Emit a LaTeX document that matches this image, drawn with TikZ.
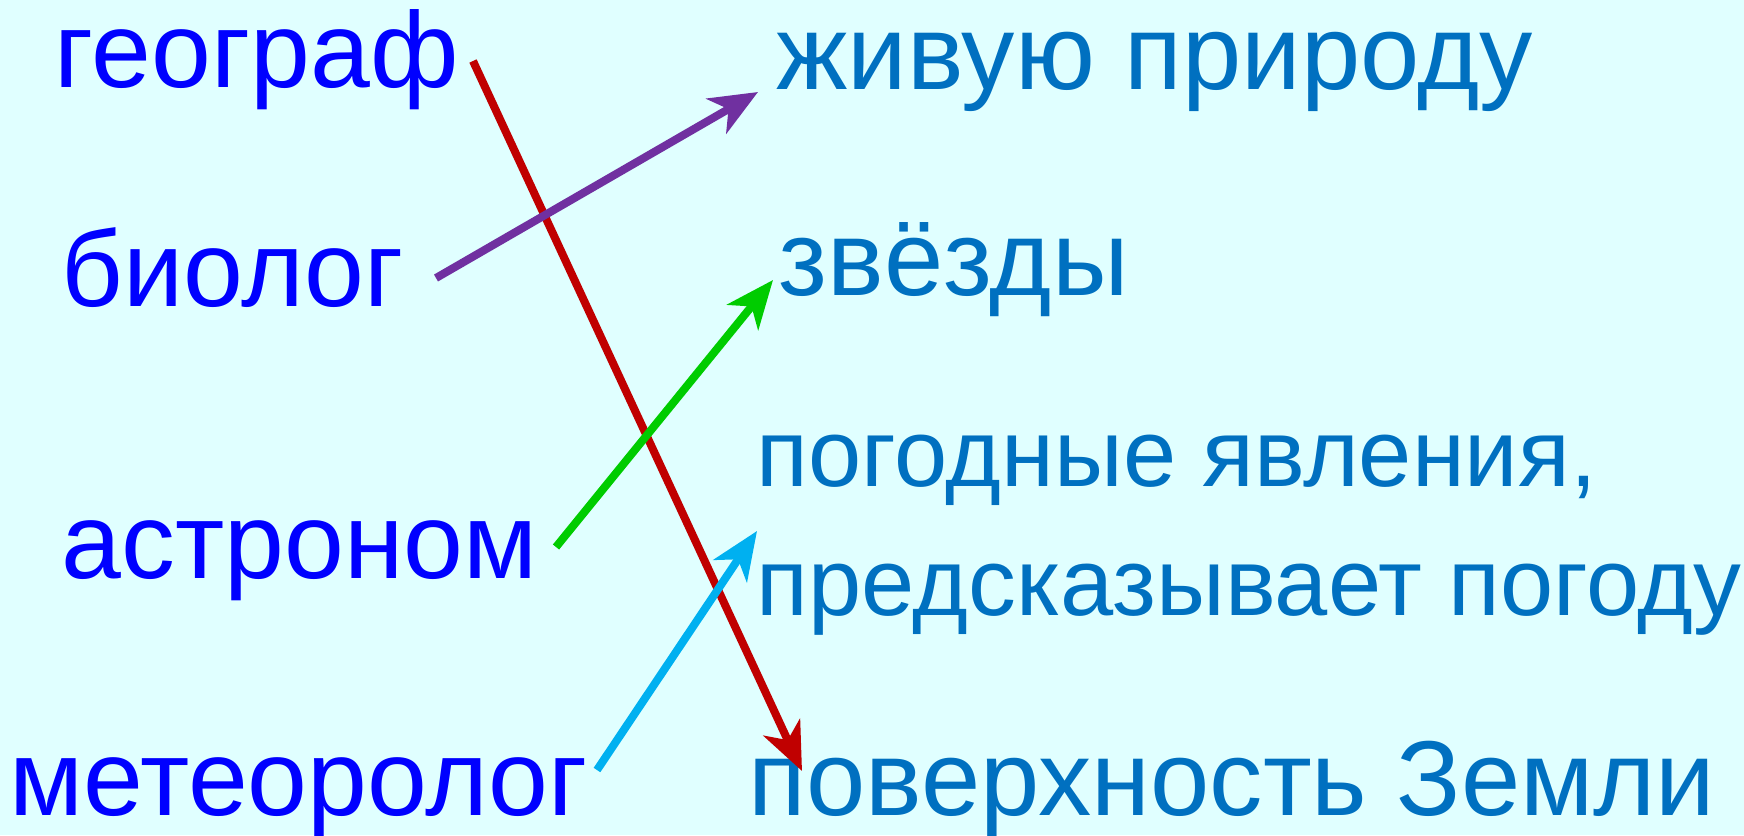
\documentclass[tikz,border=0pt]{standalone}
\usepackage{fontspec}
\setmainfont{Liberation Sans}
\usepackage{tikz}
\usetikzlibrary{arrows.meta}
\definecolor{sky}{HTML}{E0FFFF}
\definecolor{who}{HTML}{0000FF}
\definecolor{what}{HTML}{0070C0}
\definecolor{geored}{HTML}{C00000}
\definecolor{biopurple}{HTML}{7030A0}
\definecolor{astrogreen}{HTML}{00CC00}
\definecolor{meteocyan}{HTML}{00B0F0}

\begin{document}
\begin{tikzpicture}[
    x=0.01cm, y=-0.01cm,
    job/.style={anchor=base west, inner sep=0pt, text=who, font=\fontsize{30.6}{36}\selectfont},
    topic/.style={anchor=base west, inner sep=0pt, text=what, font=\fontsize{30.3}{36}\selectfont},
    small topic/.style={topic, font=\fontsize{27.2}{32}\selectfont},
    arr/.style={-{Stealth[length=0.48cm, width=0.4cm, inset=0.14cm]}, line width=0.08cm}
]

% background
\fill[sky] (0,0) rectangle (1744,835);
\useasboundingbox (0,0) rectangle (1744,835);

% professions
\node[job] (geo) at (54,87) {географ};
\node[job] (bio) at (61,306) {биолог};
\node[job] (astro) at (61,578) {астроном};
\node[job] (meteo) at (9,815) {метеоролог};

% what they study
\node[topic] (nature) at (776,89) {живую природу};
\node[topic] (stars) at (778,295) {звёзды};
\node[small topic] (weather) at (756,486) {погодные явления,};
\node[small topic] (forecast) at (756,615) {предсказывает погоду};
\node[topic] (earth) at (748,815) {поверхность Земли};

% arrow ends
\coordinate (geoS) at (473,61);
\coordinate (geoE) at (802,771);
\coordinate (bioS) at (436,278);
\coordinate (bioE) at (758,92);
\coordinate (astroS) at (556,547);
\coordinate (astroE) at (773,280);
\coordinate (meteoS) at (597,770);
\coordinate (meteoE) at (757,531);

\draw[arr, geored] (geoS) -- (geoE);
\draw[arr, biopurple] (bioS) -- (bioE);
\draw[arr, astrogreen] (astroS) -- (astroE);
\draw[arr, meteocyan] (meteoS) -- (meteoE);

\end{tikzpicture}
\end{document}
